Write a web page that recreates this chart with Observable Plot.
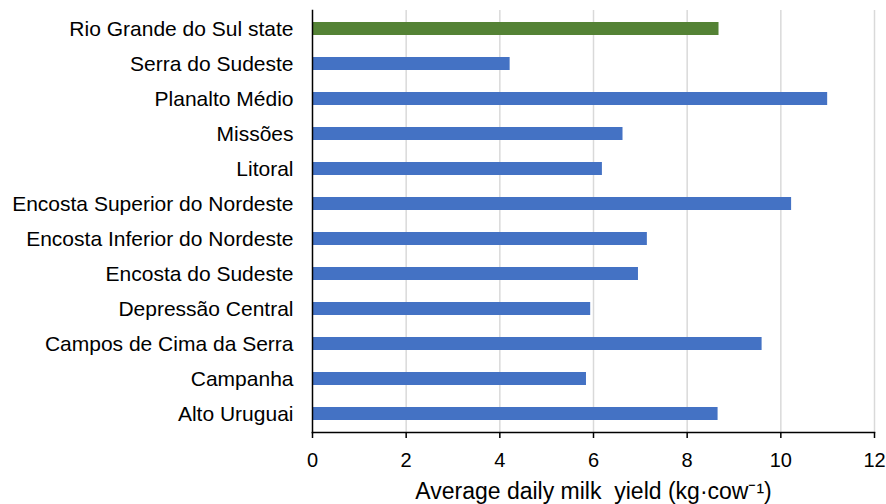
<!DOCTYPE html>
<html>
<head>
<meta charset="utf-8">
<script src="https://cdn.jsdelivr.net/npm/d3@7"></script>
<script src="https://cdn.jsdelivr.net/npm/@observablehq/plot@0.6"></script>
<style>
  html, body { margin: 0; padding: 0; background: #fff; }
  svg { display: block; }
  g[aria-label="y-axis tick label"] text { font-size: 21px; fill: #000; }
  g[aria-label="x-axis tick label"] text { font-size: 20px; fill: #000; }
  g[aria-label="x-axis label"] text { font-size: 23px; fill: #000; }
</style>
</head>
<body>
<div id="chart"></div>
<script>
const regions = [
  "Rio Grande do Sul state",
  "Serra do Sudeste",
  "Planalto Médio",
  "Missões",
  "Litoral",
  "Encosta Superior do Nordeste",
  "Encosta Inferior do Nordeste",
  "Encosta do Sudeste",
  "Depressão Central",
  "Campos de Cima da Serra",
  "Campanha",
  "Alto Uruguai"
];
const yields = [8.68, 4.22, 11.0, 6.63, 6.19, 10.23, 7.15, 6.96, 5.94, 9.60, 5.85, 8.66];
const isState = [true, false, false, false, false, false, false, false, false, false, false, false];
const xTicks = [0, 2, 4, 6, 8, 10, 12];
const xLabel = "Average daily milk  yield (kg·cow⁻¹)";

const data = regions.map((r, i) => ({region: r, value: yields[i], state: isState[i]}));

const chart = Plot.plot({
  width: 886,
  height: 504,
  marginLeft: 312,
  marginRight: 12,
  marginTop: 10,
  marginBottom: 72,
  style: {fontFamily: "Liberation Sans, Arial, sans-serif", color: "#000"},
  x: {domain: [0, 12], ticks: xTicks},
  y: {domain: regions, paddingInner: 0.63, paddingOuter: 0.315},
  color: {domain: [true, false], range: ["#548235", "#4472C4"]},
  marks: [
    Plot.gridX(xTicks.slice(1), {stroke: "#d9d9d9", strokeOpacity: 1, strokeWidth: 1.5}),
    Plot.barX(data, {x: "value", y: "region", fill: "state"}),
    Plot.axisX({
      ticks: xTicks, tickSize: 6, tickPadding: 14, stroke: "#000", strokeWidth: 1.5,
      label: xLabel, labelAnchor: "center", labelArrow: "none", labelOffset: 66
    }),
    Plot.axisY({tickSize: 0, tickPadding: 19, label: null}),
    Plot.frame({anchor: "bottom", stroke: "#000", strokeWidth: 1.5}),
    Plot.frame({anchor: "left", stroke: "#000", strokeWidth: 1.5})
  ]
});
document.getElementById("chart").append(chart);
</script>
</body>
</html>
